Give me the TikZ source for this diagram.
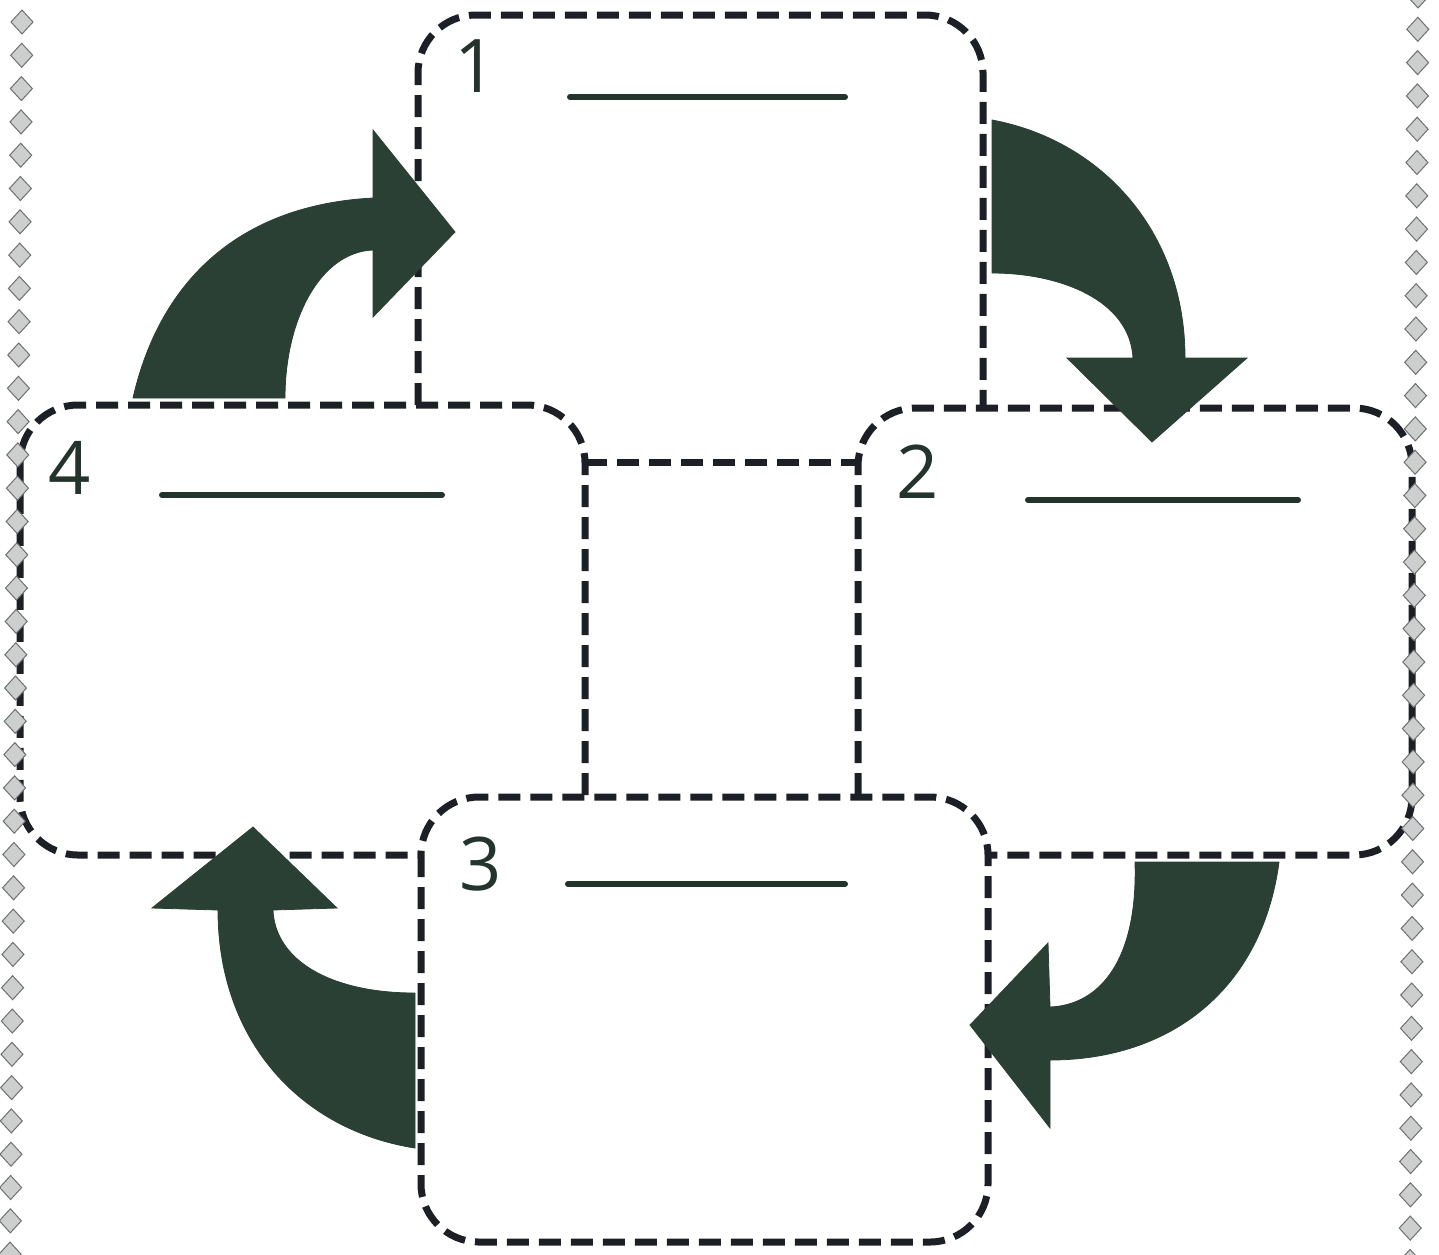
\documentclass[tikz,border=0pt]{standalone}
\usepackage{fontspec}
\newfontfamily\handfont{Open Sans}
\definecolor{dashc}{RGB}{28,32,38}
\definecolor{arrowc}{RGB}{42,64,52}
\definecolor{inkc}{RGB}{34,52,44}
\definecolor{diamf}{RGB}{205,207,207}
\definecolor{diamd}{RGB}{110,112,114}
\begin{document}
\begin{tikzpicture}[x=0.5pt,y=-0.5pt,
  dashbox/.style={draw=dashc,line width=3.5pt,dash pattern=on 11pt off 5pt,rounded corners=29pt},
  bigarrow/.style={fill=arrowc,draw=arrowc,line width=0.4pt},
  blank/.style={draw=inkc,line width=3pt,line cap=round},
  numlabel/.style={text=inkc,font=\handfont\fontsize{37}{37}\selectfont,inner sep=0pt},
  diam/.style={fill=diamf,draw=diamd,line width=0.5pt}]
\fill[white] (0,0) rectangle (1439,1254);
\useasboundingbox (0,0) rectangle (1439,1254);

% box 1 (top)
\draw[dashbox] (418,405) -- (418,15) -- (983,15) -- (983,408);
% centre top line
\draw[dashbox] (585,462) -- (858,462);
% box 4 (left)
\draw[dashbox] (585,795) -- (585,405) -- (20,405) -- (20,855) -- (421,855);
% box 2 (right)
\draw[dashbox] (858,795) -- (858,408) -- (1412,408) -- (1412,855) -- (988,855);
% box 3 (bottom)
\draw[dashbox] (421,797) rectangle (988,1242);

% labels
\node[numlabel] (n1) at (476,66) {1};
\node[numlabel] (n2) at (918,472) {2};
\node[numlabel] (n3) at (481,864) {3};
\node[numlabel] (n4) at (70,468) {4};

% blanks
\coordinate (b1a) at (570,97);  \coordinate (b1b) at (845,97);
\coordinate (b4a) at (162,495); \coordinate (b4b) at (442,495);
\coordinate (b2a) at (1028,500);\coordinate (b2b) at (1298,500);
\coordinate (b3a) at (568,884); \coordinate (b3b) at (845,884);
\draw[blank] (b1a) -- (b1b);
\draw[blank] (b4a) -- (b4b);
\draw[blank] (b2a) -- (b2b);
\draw[blank] (b3a) -- (b3b);

% arrow 4 -> 1
\filldraw[bigarrow] (133,398) .. controls (160,280) and (240,205) .. (373,198)
  -- (373,130) -- (455,232) -- (373,317) -- (373,250)
  .. controls (320,252) and (285,320) .. (285,398) -- cycle;
% arrow 1 -> 2
\filldraw[bigarrow] (992,120) .. controls (1100,140) and (1185,230) .. (1185,358)
  -- (1247,358) -- (1152,442) -- (1067,358) -- (1133,358)
  .. controls (1130,300) and (1060,273) .. (992,273) -- cycle;
% arrow 2 -> 3
\filldraw[bigarrow] (1135,862) -- (1279,862) .. controls (1262,990) and (1170,1060) .. (1050,1060)
  -- (1050,1128) -- (970,1025) -- (1048,943) -- (1050,1007)
  .. controls (1100,1005) and (1138,960) .. (1135,862) -- cycle;
% arrow 3 -> 4
\filldraw[bigarrow] (415,1148) .. controls (300,1130) and (218,1040) .. (218,910)
  -- (152,908) -- (253,827) -- (337,908) -- (273,910)
  .. controls (275,960) and (330,993) .. (415,993) -- cycle;

% diamond borders
\foreach \k in {0,...,37}{
  \pgfmathsetmacro{\yy}{22+33.3*\k}
  \pgfmathsetmacro{\xx}{22-12*\k/37}
  \filldraw[diam] (\xx,\yy-12) -- (\xx+11,\yy) -- (\xx,\yy+12) -- (\xx-11,\yy) -- cycle;
}
\foreach \k in {0,...,38}{
  \pgfmathsetmacro{\yy}{-4+33.3*\k}
  \pgfmathsetmacro{\xx}{1418-8*\k/38}
  \filldraw[diam] (\xx,\yy-12) -- (\xx+11,\yy) -- (\xx,\yy+12) -- (\xx-11,\yy) -- cycle;
}
\end{tikzpicture}
\end{document}
